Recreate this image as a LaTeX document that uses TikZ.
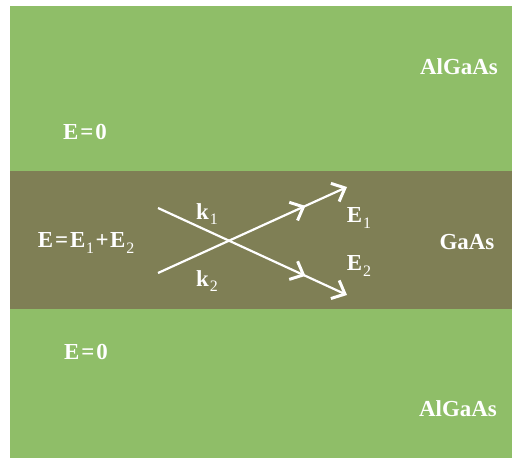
\documentclass[tikz,border=0pt]{standalone}
\usepackage{fontspec}
\setmainfont{Liberation Serif}
\usetikzlibrary{arrows.meta,decorations.markings}
\definecolor{barrier}{HTML}{8FBE68}
\definecolor{well}{HTML}{7F7F55}
% index set lower and lighter than the letter it follows
\newcommand{\sbs}[1]{\kern0.8pt\raisebox{-0.5ex}{\fontsize{16}{16}\selectfont\mdseries #1}}
% operators with a little extra room on each side
\newcommand{\opeq}{\kern2pt=\kern2pt}
\newcommand{\opplus}{\kern1.5pt+\kern1.5pt}
\tikzset{
  lbl/.style={text=white,font=\fontsize{23}{27}\selectfont\bfseries,inner sep=0pt},
  barb/.tip={Straight Barb[length=11pt,width=20pt,line width=3pt]},
  wave/.style={draw=white,line width=2.2pt,-barb,
    postaction={decorate},
    decoration={markings,mark=at position 0.78 with {\arrow{barb}}}}
}
\begin{document}
\begin{tikzpicture}[x=1bp,y=-1bp]
  \useasboundingbox (0,0) rectangle (512,459);
  % layers
  \fill[barrier] (10,6) rectangle (512,171);
  \fill[well] (10,171) rectangle (512,309);
  \fill[barrier] (10,309) rectangle (512,458);
  % labels
  \node[lbl] (al1) at (459,67) {AlGaAs};
  \node[lbl] (e01) at (85,132) {E\opeq0};
  \node[lbl] (etot) at (86,243) {E\opeq E\sbs{1}\opplus E\sbs{2}};
  \node[lbl] (gaas) at (467,242) {GaAs};
  \node[lbl] (e02) at (86,352) {E\opeq0};
  \node[lbl] (al2) at (458,409) {AlGaAs};
  \node[lbl] (k1) at (207,214) {k\sbs{1}};
  \node[lbl] (k2) at (207,281) {k\sbs{2}};
  \node[lbl] (E1) at (359,218) {E\sbs{1}};
  \node[lbl] (E2) at (359,266) {E\sbs{2}};
  % crossing waves
  \coordinate (s1) at (158,208);
  \coordinate (t1) at (347,295);
  \coordinate (s2) at (158,273);
  \coordinate (t2) at (347,187);
  \draw[wave] (s1) -- (t1);
  \draw[wave] (s2) -- (t2);
\end{tikzpicture}
\end{document}
